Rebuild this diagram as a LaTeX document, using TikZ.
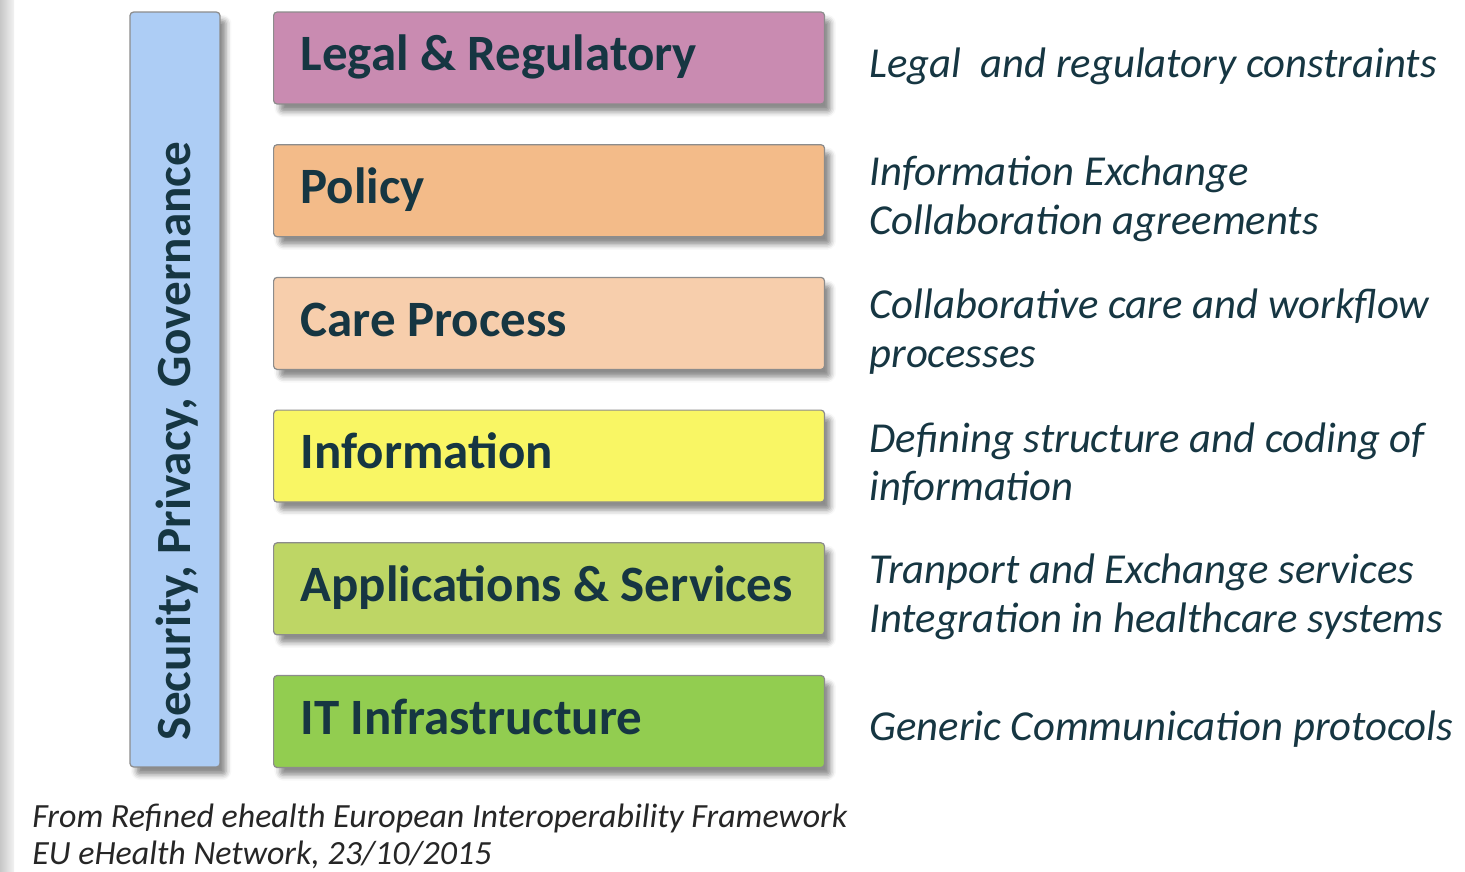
\documentclass[tikz,border=0pt]{standalone}
\usepackage{fontspec}
\setmainfont{Carlito}
\usepackage{tikz}
\usetikzlibrary{shapes,arrows,positioning,calc,shadows.blur}
\definecolor{legalpink}{RGB}{201,139,177}
\definecolor{policyorange}{RGB}{243,187,137}
\definecolor{carepeach}{RGB}{247,206,172}
\definecolor{infoyellow}{RGB}{249,246,100}
\definecolor{appsgreen}{RGB}{190,214,101}
\definecolor{infragreen}{RGB}{146,205,80}
\definecolor{govblue}{RGB}{173,205,245}
\definecolor{inkteal}{RGB}{22,54,66}

\begin{document}
\begin{tikzpicture}[x=0.02cm, y=-0.02cm,
    layer/.style={rectangle, draw=black!45, line width=0.7pt, rounded corners=2pt, anchor=west, text width=9.94cm, inner xsep=0.54cm, minimum height=1.84cm, text height=0.71cm, text depth=0.2cm, align=flush left, font=\fontsize{29}{34}\selectfont\bfseries, text=inkteal, blur shadow={shadow xshift=3.5pt, shadow yshift=-4.5pt, shadow blur radius=3pt, shadow opacity=45}},
    note/.style={right=0.88cm of #1, yshift=-0.16cm, align=left, inner sep=0pt, font=\fontsize{24.3}{27.6}\selectfont\itshape, text=inkteal}
]
    \useasboundingbox (0,0) rectangle (1465,872);
    \shade[left color=black!22, right color=black!5] (0,0) rectangle (14,872);

    \node[rectangle, draw=black!45, line width=0.7pt, rounded corners=2pt, fill=govblue, minimum width=1.8cm, minimum height=15.1cm, blur shadow={shadow xshift=3.5pt, shadow yshift=-4.5pt, shadow blur radius=3pt, shadow opacity=45}] (governance) at (175,389.5) {};
    \node[rotate=90, anchor=base, font=\fontsize{28}{34}\selectfont\bfseries, text=inkteal] (govlabel) at (190,441) {Security, Privacy, Governance};

    \node[layer, fill=legalpink] (legal) at (273,58) {Legal \& Regulatory};
    \node[layer, fill=policyorange, below=0.79cm of legal] (policy) {Policy};
    \node[layer, fill=carepeach, below=0.79cm of policy] (care) {Care Process};
    \node[layer, fill=infoyellow, below=0.79cm of care] (info) {Information};
    \node[layer, fill=appsgreen, below=0.79cm of info] (apps) {Applications \& Services};
    \node[layer, fill=infragreen, below=0.79cm of apps] (infra) {IT Infrastructure};

    \node[note=legal] (legalnote) {Legal~ and regulatory constraints};
    \node[note=policy] (policynote) {Information Exchange\\Collaboration agreements};
    \node[note=care] (carenote) {Collaborative care and workflow\\processes};
    \node[note=info] (infonote) {Defining structure and coding of\\information};
    \node[note=apps] (appsnote) {Tranport and Exchange services\\Integration in healthcare systems};
    \node[note=infra] (infranote) {Generic Communication protocols};

    \node[anchor=north west, inner sep=0pt, align=left, font=\fontsize{19.3}{21}\selectfont\itshape, text=black!85] (source) at (32,804) {From Refined ehealth European Interoperability Framework\\EU eHealth Network, 23/10/2015};
\end{tikzpicture}
\end{document}
